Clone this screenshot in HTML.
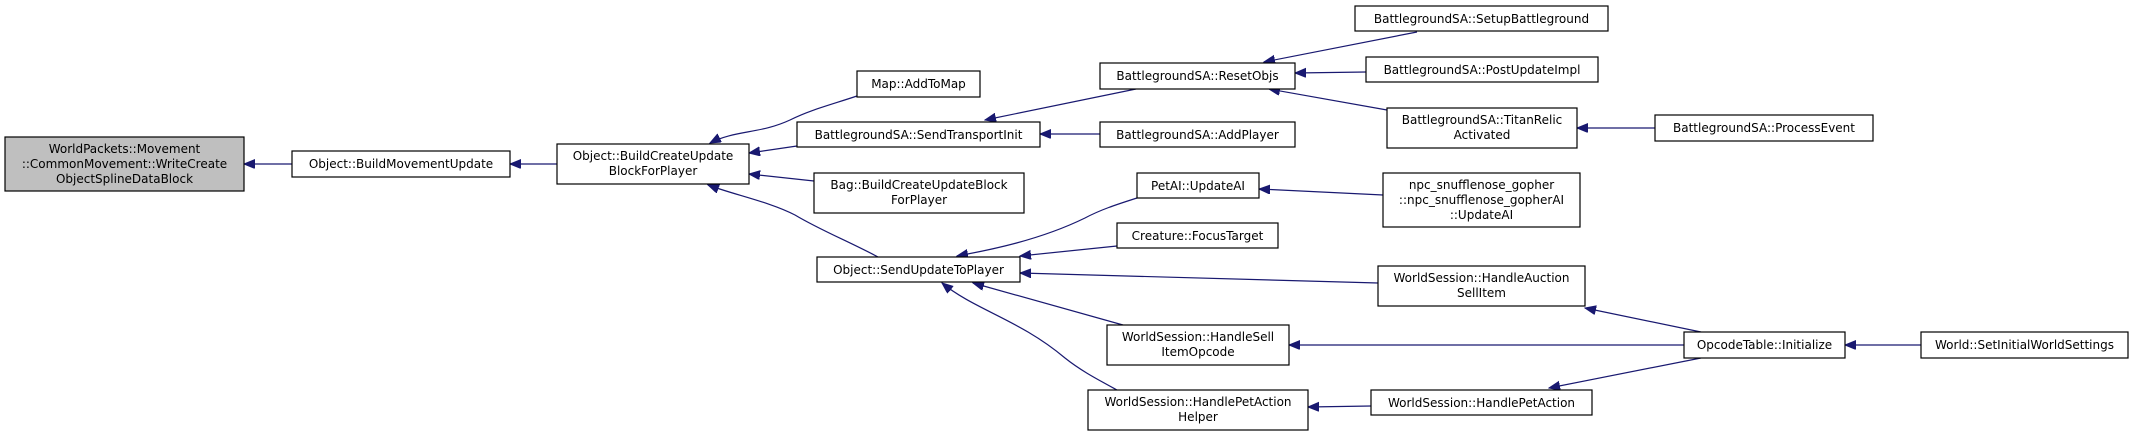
<!DOCTYPE html>
<html><head><meta charset="utf-8"><style>
html,body{margin:0;padding:0;background:#fff;}
svg{display:block;}
text{font-family:"DejaVu Sans","Liberation Sans",sans-serif;font-size:12px;fill:#000;}
rect{fill:#fff;stroke:#000;stroke-width:1.2;}
path.e{fill:none;stroke:#191970;stroke-width:1.2;}
</style></head><body>
<svg width="2133" height="437" viewBox="0 0 2133 437" xmlns="http://www.w3.org/2000/svg">
<defs>
<marker id="a" markerUnits="userSpaceOnUse" markerWidth="12" markerHeight="10" refX="11" refY="4.5" orient="auto">
<path d="M0,0 L11,4.5 L0,9 Z" fill="#191970" stroke="#191970"/>
</marker>
</defs>
<g>
<path class="e" marker-end="url(#a)" d="M292,164 L244,164"/>
<path class="e" marker-end="url(#a)" d="M557,164 L510,164"/>
<path class="e" marker-end="url(#a)" d="M857,96 C830,105 810,110 790,120 C760,134 735,130 710,143"/>
<path class="e" marker-end="url(#a)" d="M797,146 L749,153"/>
<path class="e" marker-end="url(#a)" d="M814,181 L749,174"/>
<path class="e" marker-end="url(#a)" d="M878,257 C850,242 820,230 795,215 C770,202 735,195 708,185"/>
<path class="e" marker-end="url(#a)" d="M1136,89 L985,120"/>
<path class="e" marker-end="url(#a)" d="M1100,134 L1040,134"/>
<path class="e" marker-end="url(#a)" d="M1417,32 L1264,62"/>
<path class="e" marker-end="url(#a)" d="M1366,72 L1295,73"/>
<path class="e" marker-end="url(#a)" d="M1387,110 L1269,89"/>
<path class="e" marker-end="url(#a)" d="M1655,128 L1577,128"/>
<path class="e" marker-end="url(#a)" d="M1383,195 L1259,189"/>
<path class="e" marker-end="url(#a)" d="M1137,198 C1115,205 1100,210 1085,218 C1040,240 990,250 957,256"/>
<path class="e" marker-end="url(#a)" d="M1117,246 L1020,256"/>
<path class="e" marker-end="url(#a)" d="M1378,283 L1020,273"/>
<path class="e" marker-end="url(#a)" d="M1123,325 L973,283"/>
<path class="e" marker-end="url(#a)" d="M1117,390 C1095,378 1080,370 1065,358 C1020,320 975,310 942,283"/>
<path class="e" marker-end="url(#a)" d="M1701,332 L1585,308"/>
<path class="e" marker-end="url(#a)" d="M1684,345 L1289,345"/>
<path class="e" marker-end="url(#a)" d="M1701,358 L1549,388"/>
<path class="e" marker-end="url(#a)" d="M1921,345 L1845,345"/>
<path class="e" marker-end="url(#a)" d="M1371,406 L1308,407"/>
</g>
<g>
<rect x="5" y="137" width="239" height="54" style="fill:#bfbfbf"/>
<text x="124.5" y="153" text-anchor="middle">WorldPackets::Movement</text>
<text x="124.5" y="168" text-anchor="middle">::CommonMovement::WriteCreate</text>
<text x="124.5" y="183" text-anchor="middle">ObjectSplineDataBlock</text>

<rect x="292" y="151" width="218" height="26"/>
<text x="401" y="168" text-anchor="middle">Object::BuildMovementUpdate</text>

<rect x="557" y="144" width="192" height="40"/>
<text x="653" y="160" text-anchor="middle">Object::BuildCreateUpdate</text>
<text x="653" y="175" text-anchor="middle">BlockForPlayer</text>

<rect x="857" y="71" width="123" height="26"/>
<text x="918.5" y="88" text-anchor="middle">Map::AddToMap</text>

<rect x="797" y="122" width="243" height="25"/>
<text x="918.5" y="139" text-anchor="middle">BattlegroundSA::SendTransportInit</text>

<rect x="814" y="173" width="210" height="40"/>
<text x="919" y="189" text-anchor="middle">Bag::BuildCreateUpdateBlock</text>
<text x="919" y="204" text-anchor="middle">ForPlayer</text>

<rect x="817" y="257" width="203" height="25"/>
<text x="918.5" y="274" text-anchor="middle">Object::SendUpdateToPlayer</text>

<rect x="1100" y="63" width="195" height="26"/>
<text x="1197.5" y="80" text-anchor="middle">BattlegroundSA::ResetObjs</text>

<rect x="1100" y="122" width="195" height="25"/>
<text x="1197.5" y="139" text-anchor="middle">BattlegroundSA::AddPlayer</text>

<rect x="1137" y="173" width="122" height="25"/>
<text x="1198" y="190" text-anchor="middle">PetAI::UpdateAI</text>

<rect x="1117" y="223" width="161" height="25"/>
<text x="1197.5" y="240" text-anchor="middle">Creature::FocusTarget</text>

<rect x="1107" y="325" width="182" height="40"/>
<text x="1198" y="341" text-anchor="middle">WorldSession::HandleSell</text>
<text x="1198" y="356" text-anchor="middle">ItemOpcode</text>

<rect x="1088" y="390" width="220" height="40"/>
<text x="1198" y="406" text-anchor="middle">WorldSession::HandlePetAction</text>
<text x="1198" y="421" text-anchor="middle">Helper</text>

<rect x="1355" y="6" width="253" height="25"/>
<text x="1481.5" y="23" text-anchor="middle">BattlegroundSA::SetupBattleground</text>

<rect x="1366" y="57" width="232" height="25"/>
<text x="1482" y="74" text-anchor="middle">BattlegroundSA::PostUpdateImpl</text>

<rect x="1387" y="108" width="190" height="40"/>
<text x="1482" y="124" text-anchor="middle">BattlegroundSA::TitanRelic</text>
<text x="1482" y="139" text-anchor="middle">Activated</text>

<rect x="1655" y="115" width="218" height="26"/>
<text x="1764" y="132" text-anchor="middle">BattlegroundSA::ProcessEvent</text>

<rect x="1383" y="173" width="197" height="54"/>
<text x="1481.5" y="189" text-anchor="middle">npc_snufflenose_gopher</text>
<text x="1481.5" y="204" text-anchor="middle">::npc_snufflenose_gopherAI</text>
<text x="1481.5" y="219" text-anchor="middle">::UpdateAI</text>

<rect x="1378" y="266" width="207" height="40"/>
<text x="1481.5" y="282" text-anchor="middle">WorldSession::HandleAuction</text>
<text x="1481.5" y="297" text-anchor="middle">SellItem</text>

<rect x="1684" y="332" width="161" height="26"/>
<text x="1764.5" y="349" text-anchor="middle">OpcodeTable::Initialize</text>

<rect x="1921" y="332" width="207" height="26"/>
<text x="2024.5" y="349" text-anchor="middle">World::SetInitialWorldSettings</text>

<rect x="1371" y="390" width="221" height="25"/>
<text x="1481.5" y="407" text-anchor="middle">WorldSession::HandlePetAction</text>
</g>
</svg>
</body></html>
